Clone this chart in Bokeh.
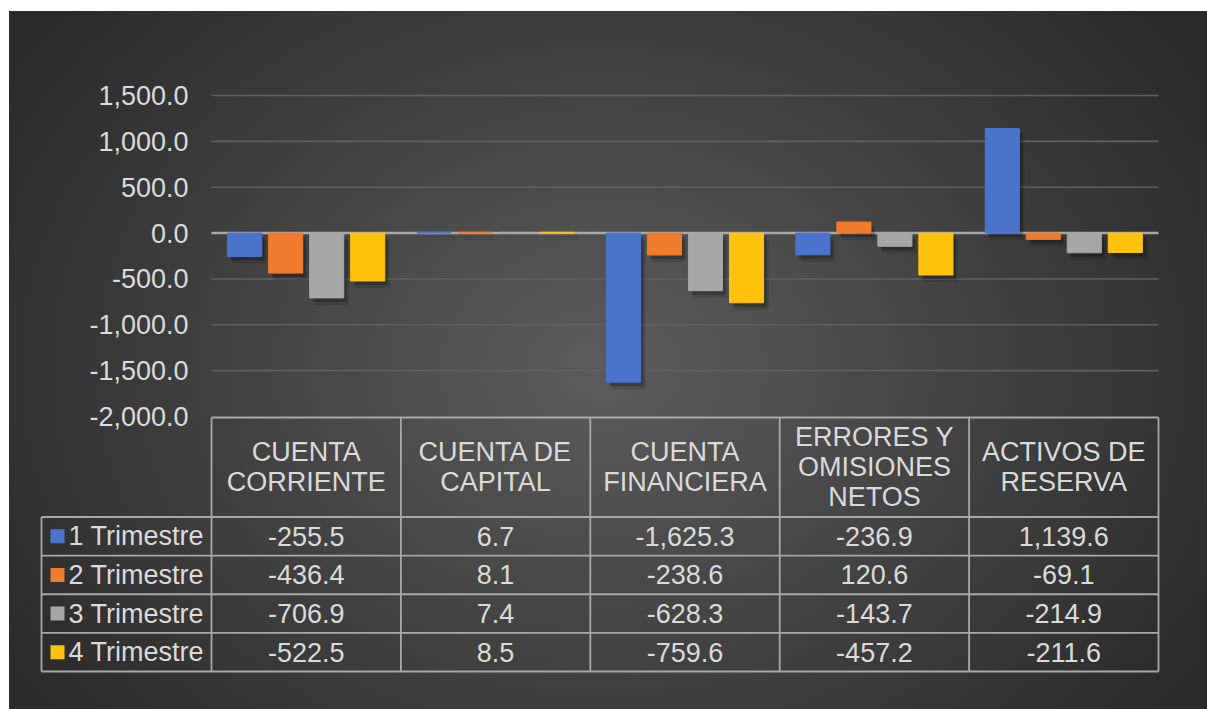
from bokeh.plotting import figure
from bokeh.models import Range1d
from bokeh.embed import file_html
from bokeh.resources import INLINE
from bokeh.core.properties import value

# ---------------- data ----------------
categories = ["CUENTA\nCORRIENTE", "CUENTA DE\nCAPITAL", "CUENTA\nFINANCIERA",
              "ERRORES Y\nOMISIONES\nNETOS", "ACTIVOS DE\nRESERVA"]
series_names = ["1 Trimestre", "2 Trimestre", "3 Trimestre", "4 Trimestre"]
t1 = [-255.5, 6.7, -1625.3, -236.9, 1139.6]
t2 = [-436.4, 8.1, -238.6, 120.6, -69.1]
t3 = [-706.9, 7.4, -628.3, -143.7, -214.9]
t4 = [-522.5, 8.5, -759.6, -457.2, -211.6]
series = [t1, t2, t3, t4]
y_ticks = [-2000, -1500, -1000, -500, 0, 500, 1000, 1500]
colors = ["#4a74cc", "#f07b2c", "#a6a6a6", "#ffc20e"]

# ---------------- layout (page pixels) ----------------
W, H = 1207, 709
OX, OY = 0, 0
PX_L, PX_R = 211, 1158
PY_T, PY_B = 95, 416
Y_MIN, Y_MAX = y_ticks[0], y_ticks[-1]
ncat = len(categories)
ux = (PX_R - PX_L) / ncat
uy = (PY_B - PY_T) / (Y_MAX - Y_MIN)


def X(px):
    return (px - PX_L) / ux


def Y(py):
    return Y_MAX - (py - PY_T) / uy


FONT = value("Liberation Sans")
TXT = "#dadada"
FS = "27px"

p = figure(width=W, height=H, output_backend="svg", toolbar_location=None,
           x_range=Range1d(X(OX), X(OX + W)), y_range=Range1d(Y(OY + H), Y(OY)),
           x_axis_location=None, y_axis_location=None, title=None,
           min_border=0, outline_line_color=None,
           background_fill_color=None, border_fill_color=None,
           styles={"background-image":
                   "linear-gradient(to bottom, #ffffff 0px, #ffffff 11px, transparent 11px), "
                   "linear-gradient(to right, #ffffff 0px, #ffffff 9px, transparent 9px), "
                   "radial-gradient(ellipse 58% 78% at 50% 52%, #5c5c5c 0%, #2a2a2a 100%)"})
p.grid.visible = False

# gridlines
g = [t for t in y_ticks if t not in (0, Y_MIN)]
p.segment(x0=[0] * len(g), x1=[ncat] * len(g), y0=g, y1=g,
          line_color="#5f5f5f", line_width=1.6)

# zero line
p.segment(x0=[0], x1=[ncat], y0=[0], y1=[0], line_color="#a8a8a8", line_width=2.6)

# bars
BW = 0.18
STEP = 0.2165
for j, vals in enumerate(series):
    xs = [i + 0.5 + (j - 1.5) * STEP for i in range(ncat)]
    # soft drop shadow
    for dx, dy, a in ((5, 7, 0.12), (3, 4, 0.22)):
        p.quad(left=[x - BW / 2 + dx / ux for x in xs],
               right=[x + BW / 2 + dx / ux for x in xs],
               top=[max(v, 0) - dy / uy for v in vals],
               bottom=[min(v, 0) - dy / uy for v in vals],
               fill_color="black", fill_alpha=a, line_color=None)
for j, vals in enumerate(series):
    xs = [i + 0.5 + (j - 1.5) * STEP for i in range(ncat)]
    p.vbar(x=xs, top=vals, bottom=0, width=BW, fill_color=colors[j],
           line_color=colors[j], line_width=1)

# y tick labels
p.text(x=[X(188)] * len(y_ticks), y=y_ticks, text=[f"{t:,.1f}" for t in y_ticks],
       text_align="right", text_baseline="middle", text_font=FONT,
       text_font_size=FS, text_color=TXT)

# ---------------- data table ----------------
HEAD_T, HEAD_B = 417, 516.5
ROW_H = (671 - HEAD_B) / len(series)
LEG_L = 41
row_lines = [HEAD_B + k * ROW_H for k in range(len(series) + 1)]
LC, LW = "#a8a8a8", 1.8

# horizontal lines
p.segment(x0=[0], x1=[ncat], y0=[Y(HEAD_T)], y1=[Y(HEAD_T)], line_color=LC, line_width=LW)
p.segment(x0=[X(LEG_L)] * len(row_lines), x1=[ncat] * len(row_lines),
          y0=[Y(r) for r in row_lines], y1=[Y(r) for r in row_lines],
          line_color=LC, line_width=LW)
# vertical lines
p.segment(x0=list(range(ncat + 1)), x1=list(range(ncat + 1)),
          y0=[Y(HEAD_T)] * (ncat + 1), y1=[Y(row_lines[-1])] * (ncat + 1),
          line_color=LC, line_width=LW)
p.segment(x0=[X(LEG_L)], x1=[X(LEG_L)], y0=[Y(HEAD_B)], y1=[Y(row_lines[-1])],
          line_color=LC, line_width=LW)

# header texts
hx, hy, ht = [], [], []
hc = (HEAD_T + HEAD_B) / 2
for i, c in enumerate(categories):
    lines = c.split("\n")
    n = len(lines)
    for k, ln in enumerate(lines):
        hx.append(i + 0.5)
        hy.append(Y(hc + (k - (n - 1) / 2) * 30))
        ht.append(ln)
p.text(x=hx, y=hy, text=ht, text_align="center", text_baseline="middle",
       text_font=FONT, text_font_size=FS, text_color=TXT)

# values
vx, vy, vt = [], [], []
for j, vals in enumerate(series):
    rc = HEAD_B + (j + 0.5) * ROW_H
    for i, v in enumerate(vals):
        vx.append(i + 0.5)
        vy.append(Y(rc))
        vt.append(f"{v:,.1f}")
p.text(x=vx, y=vy, text=vt, text_align="center", text_baseline="middle",
       text_font=FONT, text_font_size=FS, text_color=TXT)

# legend keys
rcs = [Y(HEAD_B + (j + 0.5) * ROW_H) for j in range(len(series))]
p.scatter(x=[X(57)] * len(series), y=rcs, marker="square", size=14,
          fill_color=colors, line_color=None)
p.text(x=[X(68)] * len(series), y=rcs, text=series_names, text_align="left",
       text_baseline="middle", text_font=FONT, text_font_size=FS, text_color=TXT)

open("out.html", "w").write(file_html(p, INLINE))
